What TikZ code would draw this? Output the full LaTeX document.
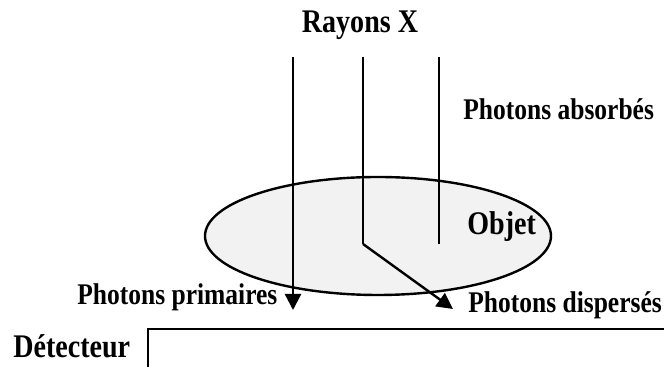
\documentclass[tikz,border=0pt]{standalone}
\usepackage{fontspec}
\setmainfont{Liberation Serif}
\newfontfamily\tallbold{Liberation Serif Bold}[FakeStretch=0.85]
\usetikzlibrary{arrows.meta}

\tikzset{
  lbl/.style={font=\tallbold\fontsize{15}{17}\selectfont,inner sep=0pt},
  biglbl/.style={font=\tallbold\fontsize{16.5}{18}\selectfont,inner sep=0pt},
  ray/.style={line width=1.2pt},
  rayarrow/.style={line width=1.2pt,-{Triangle[length=8pt,width=8pt]}}
}

\begin{document}
\begin{tikzpicture}[x=0.5pt,y=-0.5pt]
\useasboundingbox (0,0) rectangle (664,367);

% ---------------- object ----------------
\draw[line width=1.2pt,fill=black!5] (378,236) ellipse [x radius=173,y radius=59];

% ---------------- incoming rays ----------------
\coordinate (top1) at (293,57);
\coordinate (top2) at (363,57);
\coordinate (top3) at (439,57);
\coordinate (kink) at (363,244);
\coordinate (stop) at (439,244);
\coordinate (prim) at (293,310);
\coordinate (disp) at (453,309);

\draw[rayarrow] (top1) -- (prim);              % primary photons
\draw[ray] (top2) -- (kink);
\draw[rayarrow] (kink) -- (disp);              % scattered photons
\draw[ray] (top3) -- (stop);                   % absorbed photons

% ---------------- detector ----------------
\draw[line width=1.2pt] (148,367) -- (148,329) -- (664,329);

% ---------------- labels ----------------
\node[biglbl,anchor=base] (rayons) at (360,33) {Rayons X};
\node[lbl,anchor=base west] (absorb) at (463,120) {Photons absorbés};
\node[biglbl,anchor=base west] (objet) at (467,235) {Objet};
\node[lbl,anchor=base west] (primaire) at (77,305) {Photons primaires};
\node[lbl,anchor=base west] (disperse) at (468,313) {Photons dispersés};
\node[biglbl,anchor=base west] (detect) at (13,358) {Détecteur};
\end{tikzpicture}
\end{document}
